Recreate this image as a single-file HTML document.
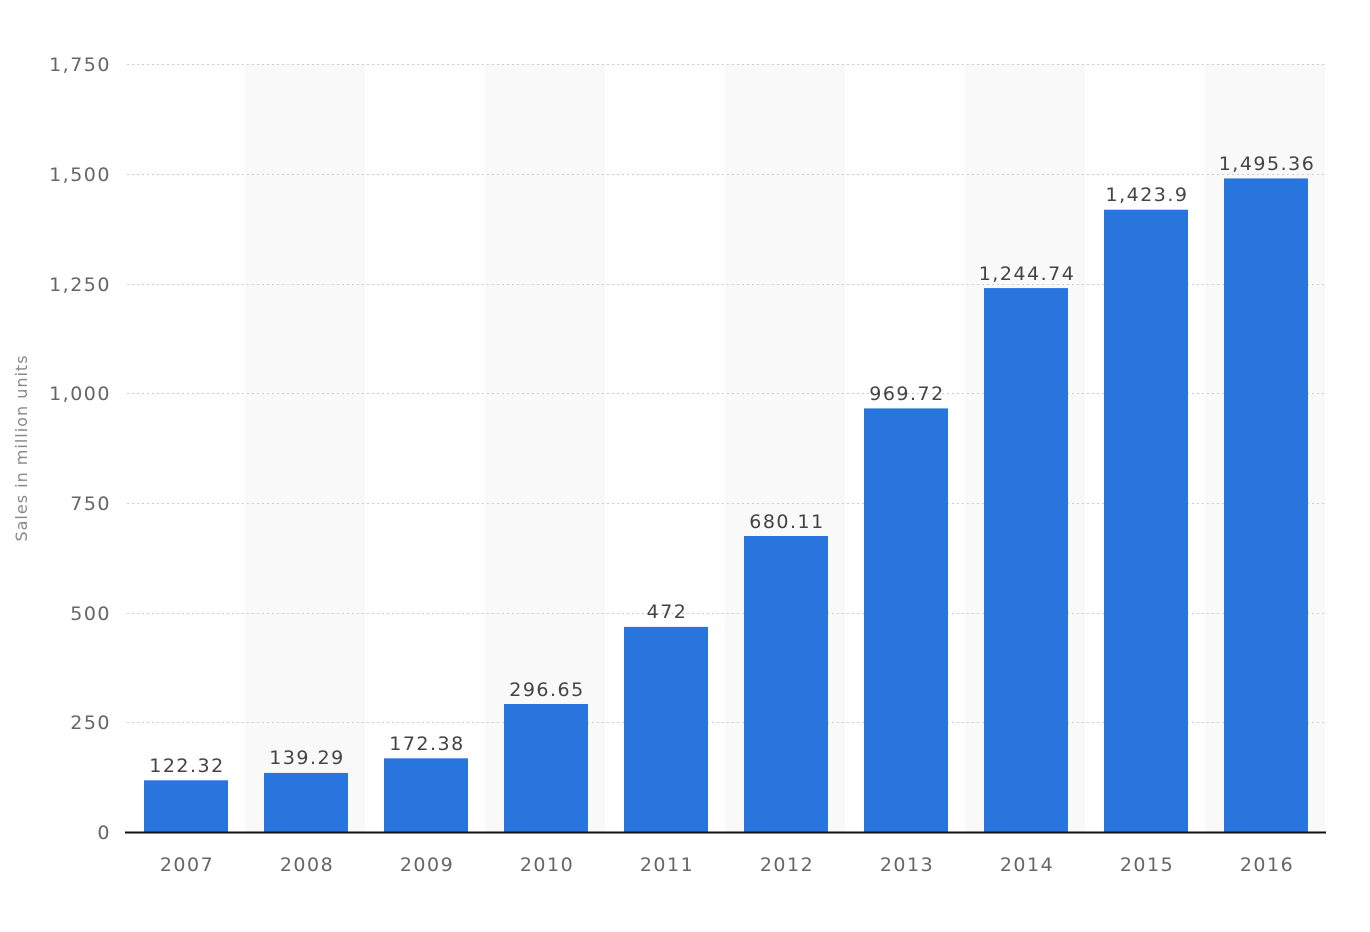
<!DOCTYPE html>
<html><head><meta charset="utf-8"><style>
html,body{margin:0;padding:0;background:#fff;}
svg{display:block;font-family:"DejaVu Sans","Liberation Sans",sans-serif;}
</style></head><body>
<svg width="1370" height="932" viewBox="0 0 1370 932">
<g fill="#f9f9f9">
<rect x="245" y="64" width="120" height="768"/>
<rect x="485" y="64" width="120" height="768"/>
<rect x="725" y="64" width="120" height="768"/>
<rect x="965" y="64" width="120" height="768"/>
<rect x="1205" y="64" width="120" height="768"/>
</g>
<g stroke="#cccccc" stroke-width="1" stroke-dasharray="2,3">
<line x1="127" x2="1325" y1="64.5" y2="64.5"/>
<line x1="127" x2="1325" y1="174.5" y2="174.5"/>
<line x1="127" x2="1325" y1="284.5" y2="284.5"/>
<line x1="127" x2="1325" y1="393.5" y2="393.5"/>
<line x1="127" x2="1325" y1="503.5" y2="503.5"/>
<line x1="127" x2="1325" y1="613.5" y2="613.5"/>
<line x1="127" x2="1325" y1="722.5" y2="722.5"/>
</g>
<g fill="#666" font-size="19" letter-spacing="1.5" text-anchor="end">
<text x="111" y="71">1,750</text>
<text x="111" y="181">1,500</text>
<text x="111" y="291">1,250</text>
<text x="111" y="400">1,000</text>
<text x="111" y="510">750</text>
<text x="111" y="620">500</text>
<text x="111" y="729">250</text>
<text x="111" y="839">0</text>
</g>
<text transform="translate(27,448) rotate(-90)" fill="#888" font-size="16" letter-spacing="1" text-anchor="middle">Sales in million units</text>
<g fill="#2876dd">
<rect x="144" y="780.3" width="84" height="51.7"/>
<rect x="264" y="772.9" width="84" height="59.1"/>
<rect x="384" y="758.3" width="84" height="73.7"/>
<rect x="504" y="704.0" width="84" height="128.0"/>
<rect x="624" y="626.9" width="84" height="205.1"/>
<rect x="744" y="536.0" width="84" height="296.0"/>
<rect x="864" y="408.4" width="84" height="423.6"/>
<rect x="984" y="288.1" width="84" height="543.9"/>
<rect x="1104" y="209.7" width="84" height="622.3"/>
<rect x="1224" y="178.4" width="84" height="653.6"/>
</g>
<line x1="125" x2="1326" y1="832.5" y2="832.5" stroke="#111" stroke-width="2"/>
<g fill="#444" font-size="19" letter-spacing="1.5" text-anchor="middle">
<text x="187" y="772">122.32</text>
<text x="307" y="764">139.29</text>
<text x="427" y="750">172.38</text>
<text x="547" y="696">296.65</text>
<text x="667" y="618">472</text>
<text x="787" y="528">680.11</text>
<text x="907" y="400">969.72</text>
<text x="1027" y="280">1,244.74</text>
<text x="1147" y="201">1,423.9</text>
<text x="1267" y="170">1,495.36</text>
</g>
<g fill="#666" font-size="19" letter-spacing="1.5" text-anchor="middle">
<text x="187" y="871">2007</text>
<text x="307" y="871">2008</text>
<text x="427" y="871">2009</text>
<text x="547" y="871">2010</text>
<text x="667" y="871">2011</text>
<text x="787" y="871">2012</text>
<text x="907" y="871">2013</text>
<text x="1027" y="871">2014</text>
<text x="1147" y="871">2015</text>
<text x="1267" y="871">2016</text>
</g>
</svg>
</body></html>
